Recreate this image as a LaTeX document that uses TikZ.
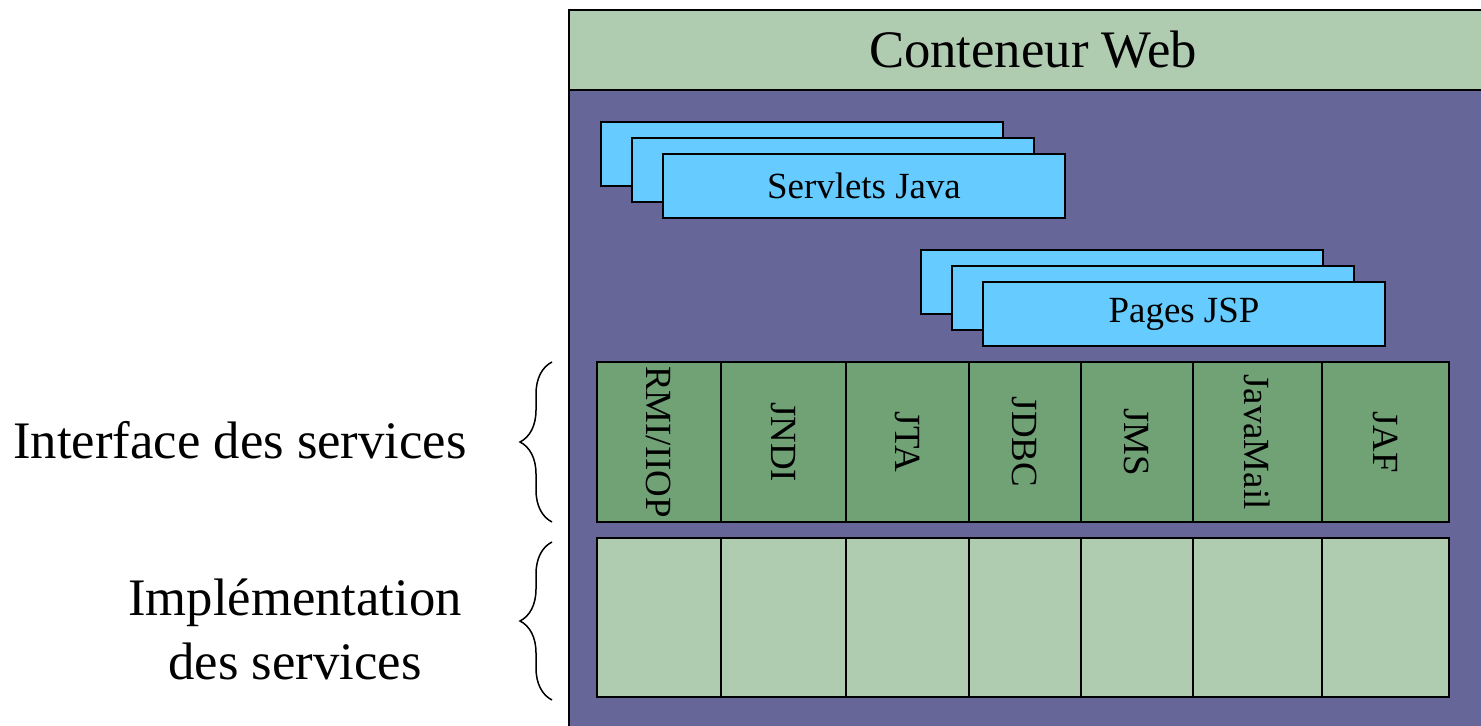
\documentclass[tikz,border=0pt]{standalone}
\usepackage{fontspec}
\setmainfont{Liberation Serif}
\usetikzlibrary{decorations.pathreplacing}

\definecolor{headgreen}{RGB}{175,203,176}
\definecolor{webpurple}{RGB}{102,102,153}
\definecolor{boxcyan}{RGB}{102,204,255}
\definecolor{apigreen}{RGB}{112,162,118}

\tikzset{
    bigtext/.style={font=\fontsize{30}{36.5}\selectfont},
    midtext/.style={font=\fontsize{21}{25}\selectfont},
    page/.style={draw, line width=0.04cm, fill=boxcyan, minimum width=8.04cm, minimum height=1.28cm, inner sep=0pt},
    api/.style={draw, line width=0.04cm, fill=apigreen},
    impl/.style={draw, line width=0.04cm, fill=headgreen},
    accolade/.style={decorate, decoration={brace, amplitude=0.64cm}, line width=0.03cm},
}

\begin{document}
\begin{tikzpicture}[x=0.02cm, y=-0.02cm]

    \useasboundingbox (0,0) rectangle (1481,726);

    % Container
    \fill[webpurple] (569,10) rectangle (1481,726);
    \fill[headgreen] (569,10) rectangle (1481,90);
    \draw[line width=0.04cm] (569,726) -- (569,10) -- (1481,10);
    \draw[line width=0.04cm] (569,90) -- (1481,90);
    \node[bigtext] (web) at (1033,50) {Conteneur Web};

    % Servlets
    \foreach \i in {0,1,2}
        \node[page] (servlet\i) at (802+31*\i,154+16*\i) {};
    \node[midtext] (servlets) at (servlet2) {Servlets Java};

    % JSP
    \foreach \i in {0,1,2}
        \node[page] (jsp\i) at (1122+31*\i,282+16*\i) {};
    \node[midtext] (pages) at (jsp2) {Pages JSP};

    % Services
    \foreach \xa/\xb/\nm/\lab in {597/721/rmi/{RMI/IIOP}, 721/846/jndi/JNDI, 846/969/jta/JTA, 969/1081/jdbc/JDBC, 1081/1193/jms/JMS, 1193/1322/mail/JavaMail, 1322/1449/jaf/JAF} {
        \draw[api] (\xa,362) rectangle (\xb,522);
        \draw[impl] (\xa,538) rectangle (\xb,697);
        \node[midtext, rotate=-90] (\nm) at ({(\xa+\xb)/2},442) {\lab};
    }

    % Braces
    \draw[accolade] (552,522) -- (552,362);
    \draw[accolade] (552,700) -- (552,542);

    % Labels
    \node[bigtext] (iface) at (240,440) {Interface des services};
    \node[bigtext, align=center] (implem) at (295,629) {Implémentation\\des services};

\end{tikzpicture}
\end{document}
